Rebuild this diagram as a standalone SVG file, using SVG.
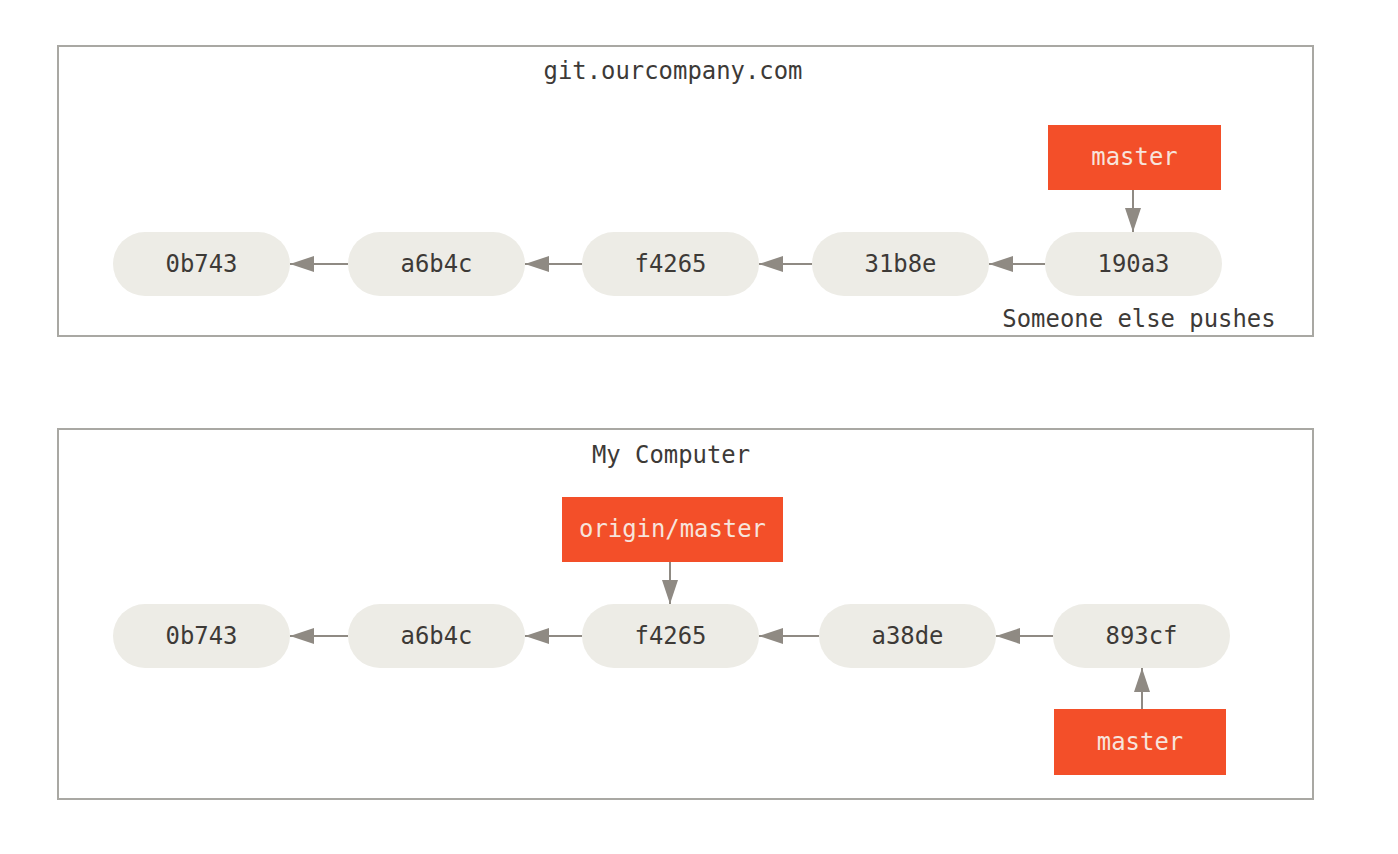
<svg xmlns="http://www.w3.org/2000/svg" width="1398" height="854" viewBox="0 0 1398 854">
<style>
.frame{fill:#fff;stroke:#a9a8a3;stroke-width:2}
.commit rect{fill:#edece6}
.branch rect{fill:#f34f29}
text{font-family:"DejaVu Sans Mono","Liberation Mono",monospace;font-size:23.9px;text-anchor:middle}
.commit text,.label{fill:#3d3a37}
.branch text{fill:#f7e4dc}
.conn line{stroke:#8f8a83;stroke-width:2;fill:none}
</style>
<defs>
<marker id="ah" markerUnits="userSpaceOnUse" markerWidth="26" markerHeight="18" refX="24" refY="8" orient="auto">
<path d="M0,0 L24,8 L0,16 Z" fill="#8f8a83"/>
</marker>
</defs>
<rect width="1398" height="854" fill="#fff"/>
<g id="server">
<rect class="frame" x="58" y="46" width="1255" height="290"/>
<text class="label" x="673" y="79">git.ourcompany.com</text>
<text class="label" x="1139" y="327">Someone else pushes</text>
</g>
<g id="local">
<rect class="frame" x="58" y="429" width="1255" height="370"/>
<text class="label" x="671" y="463">My Computer</text>
</g>
<g id="s-0b743" class="commit"><rect x="113" y="232" width="177" height="64" rx="32"/><text x="201.5" y="272">0b743</text></g>
<g id="s-a6b4c" class="commit"><rect x="348" y="232" width="177" height="64" rx="32"/><text x="436.5" y="272">a6b4c</text></g>
<g id="s-f4265" class="commit"><rect x="582" y="232" width="177" height="64" rx="32"/><text x="670.5" y="272">f4265</text></g>
<g id="s-31b8e" class="commit"><rect x="812" y="232" width="177" height="64" rx="32"/><text x="900.5" y="272">31b8e</text></g>
<g id="s-190a3" class="commit"><rect x="1045" y="232" width="177" height="64" rx="32"/><text x="1133.5" y="272">190a3</text></g>
<g id="s-master" class="branch"><rect x="1048" y="125" width="173" height="65"/><text x="1134.5" y="165">master</text></g>
<g id="l-0b743" class="commit"><rect x="113" y="604" width="177" height="64" rx="32"/><text x="201.5" y="644">0b743</text></g>
<g id="l-a6b4c" class="commit"><rect x="348" y="604" width="177" height="64" rx="32"/><text x="436.5" y="644">a6b4c</text></g>
<g id="l-f4265" class="commit"><rect x="582" y="604" width="177" height="64" rx="32"/><text x="670.5" y="644">f4265</text></g>
<g id="l-a38de" class="commit"><rect x="819" y="604" width="177" height="64" rx="32"/><text x="907.5" y="644">a38de</text></g>
<g id="l-893cf" class="commit"><rect x="1053" y="604" width="177" height="64" rx="32"/><text x="1141.5" y="644">893cf</text></g>
<g id="l-origin-master" class="branch"><rect x="562" y="497" width="221" height="65"/><text x="672.5" y="537">origin/master</text></g>
<g id="l-master" class="branch"><rect x="1054" y="709" width="172" height="66"/><text x="1140" y="750">master</text></g>
<g id="connectors" class="conn">
<line x1="348" y1="264" x2="290" y2="264" marker-end="url(#ah)"/>
<line x1="582" y1="264" x2="525" y2="264" marker-end="url(#ah)"/>
<line x1="812" y1="264" x2="759" y2="264" marker-end="url(#ah)"/>
<line x1="1045" y1="264" x2="989" y2="264" marker-end="url(#ah)"/>
<line x1="1133" y1="190" x2="1133" y2="232" marker-end="url(#ah)"/>
<line x1="348" y1="636" x2="290" y2="636" marker-end="url(#ah)"/>
<line x1="582" y1="636" x2="525" y2="636" marker-end="url(#ah)"/>
<line x1="819" y1="636" x2="759" y2="636" marker-end="url(#ah)"/>
<line x1="1053" y1="636" x2="996" y2="636" marker-end="url(#ah)"/>
<line x1="670" y1="562" x2="670" y2="604" marker-end="url(#ah)"/>
<line x1="1142" y1="709" x2="1142" y2="668" marker-end="url(#ah)"/>
</g>
</svg>
